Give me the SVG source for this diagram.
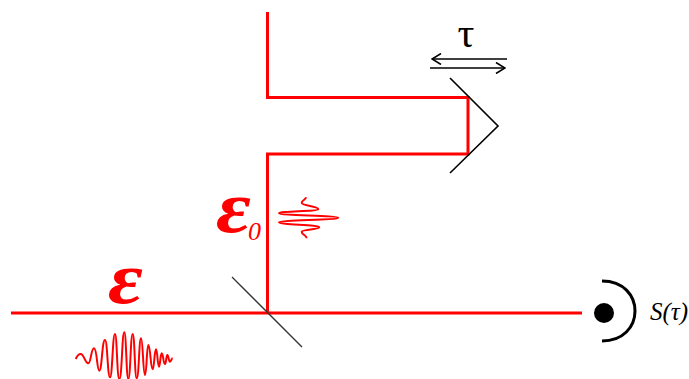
<svg xmlns="http://www.w3.org/2000/svg" width="689" height="379" viewBox="0 0 689 379">
<defs>
<style>
.beam{fill:none;stroke:#ff0000;stroke-width:3}
.wave{fill:none;stroke:#ff0000;stroke-width:2}
.opt{fill:none;stroke:#000;stroke-width:1.6}
.red{fill:#ff0000;font-family:"Liberation Serif",serif;font-style:italic}
.blk{fill:#000;font-family:"Liberation Serif",serif}
</style>
<marker id="open" viewBox="0 0 12 12" refX="11" refY="6" markerWidth="12" markerHeight="12" markerUnits="userSpaceOnUse" orient="auto"><path d="M2 0.5L11 6L2 11.5" fill="none" stroke="#000" stroke-width="1.6"/></marker>
</defs>
<rect width="689" height="379" fill="#fff"/>
<g id="connectors">
<path class="beam" d="M267.5 12V97.5H468V154H267.5V313"/>
<path class="beam" d="M11 313H582"/>
</g>
<g id="beamsplitter"><path d="M232 277L302 347" fill="none" stroke="#333" stroke-width="1.3"/></g>
<g id="retroreflector"><path class="opt" d="M450 78L498 126L450 173"/></g>
<g id="delay">
<text class="blk" x="466" y="47" font-size="42" text-anchor="middle" font-family="Liberation Serif">τ</text>
<path class="opt" d="M507 59H432" marker-end="url(#open)"/>
<path class="opt" d="M430 68H505" marker-end="url(#open)"/>
</g>
<g id="detector">
<circle cx="604" cy="313" r="10" fill="#000"/>
<path d="M602 281C624 281 635 296 635 311C635 327 623 341 602 341" fill="none" stroke="#000" stroke-width="3"/>
<text class="blk" x="650" y="320" font-size="25" font-style="italic">S(τ)</text>
</g>
<g id="field-e">
<text class="red" font-size="74" font-weight="bold" transform="translate(108 303) scale(1.15 1)">ε</text>
<path class="wave" d="M75.7 359C77 356 79 354 80.7 354C84 354 85 363.3 88.3 363.3C91 363.3 91 348.3 94 348.3C97 348.3 97 370.7 99.3 370.7C102 370.7 102 340 105 340C107.5 340 107.5 377.3 110 377.3C112.5 377.3 112.5 334 115 334C117 334 117 379 119.3 379C122 379 122 332.3 124.3 332.3C126.3 332.3 126.3 379 128.3 379C130.5 379 130.5 334 132.7 334C134.7 334 134.7 378.3 136.7 378.3C139 378.3 139 338.3 141 338.3C143 338.3 143 375 145 375C146.7 375 146.7 345 148.3 345C150.5 345 150.5 369.3 152.7 369.3C154.3 369.3 154.3 349.3 156 349.3C157.5 349.3 157.5 366.7 159 366.7C160.3 366.7 160.3 353.3 161.7 353.3C163.3 353.3 163.3 364 165 364C166.2 364 166.2 355 167.3 355C168.6 355 168.6 361.7 170 361.7C171 361.7 171.5 358.3 172.7 358.3"/>
</g>
<g id="field-e0">
<text class="red" font-size="74" font-weight="bold" transform="translate(216 232) scale(1.15 1)">ε</text>
<text class="red" x="248" y="240" font-size="26">0</text>
<path class="wave" d="M306 197.3C306 200 301.7 200 301.7 202.7C301.7 206 318.3 206 318.3 209.3C318.3 211.3 279 211.3 279 213.3C279 215.5 338.3 215.5 338.3 217.7C338.3 220 279 220 279 222.3C279 224.8 319.3 224.8 319.3 227.3C319.3 229.5 301.7 229.5 301.7 231.7C301.7 235 306.7 235 306.7 238.3"/>
</g>
</svg>
